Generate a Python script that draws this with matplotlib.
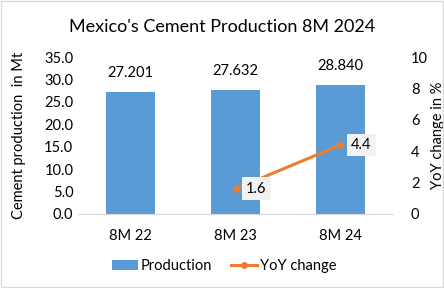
import numpy as np
import matplotlib.pyplot as plt

plt.rcParams['font.family'] = ['Lato', 'DejaVu Sans']

periods = ['8M 22', '8M 23', '8M 24']
production = [27.201, 27.632, 28.840]
yoy_change = [np.nan, 1.6, 4.4]

bar_color = '#5b9bd5'
line_color = '#ed7d31'

fig = plt.figure(figsize=(4.44, 2.88), dpi=100)
ax = fig.add_axes([0.176, 0.257, 0.709, 0.545])
x = np.arange(len(periods))

ax.bar(x, production, width=0.46, color=bar_color, label='Production', zorder=2)
for xi, v in zip(x, production):
    ax.text(xi, v + 2.6, f'{v:.3f}', ha='center', va='bottom', fontsize=10.5)

ax.set_ylim(0, 35)
ax.set_yticks(np.arange(0, 36, 5))
ax.set_yticklabels([f'{t:.1f}' for t in np.arange(0, 36, 5)])
ax.set_xlim(-0.5, 2.5)
ax.set_xticks(x)
ax.set_xticklabels(periods)
ax.set_ylabel('Cement production  in Mt', fontsize=10.5)
ax.yaxis.set_label_coords(-0.165, 0.5)
for s in ['top', 'right', 'left']:
    ax.spines[s].set_visible(False)
ax.spines['bottom'].set_color('#d9d9d9')
ax.tick_params(axis='both', length=0, labelsize=10.5)
ax.tick_params(axis='x', pad=11)

ax2 = ax.twinx()
ax2.plot(x, yoy_change, color=line_color, lw=2.2, marker='o', ms=4, label='YoY change', zorder=3)
for xi, v in zip(x, yoy_change):
    if not np.isnan(v):
        ax2.text(xi + 0.1, v, f'{v:.1f}', ha='left', va='center', fontsize=10.5,
                 bbox=dict(boxstyle='square,pad=0.3', fc='#f2f2f2', ec='none'))
ax2.set_ylim(0, 10)
ax2.set_yticks(np.arange(0, 11, 2))
ax2.set_ylabel('YoY change in %', fontsize=10.5, rotation=90)
ax2.yaxis.set_label_coords(1.12, 0.5)
for s in ['top', 'right', 'left', 'bottom']:
    ax2.spines[s].set_visible(False)
ax2.tick_params(axis='y', length=0, labelsize=10.5, pad=13)

fig.suptitle("Mexico's Cement Production 8M 2024", y=0.935, fontsize=13)

h1, l1 = ax.get_legend_handles_labels()
h2, l2 = ax2.get_legend_handles_labels()
fig.legend(h1 + h2, l1 + l2, loc='center', bbox_to_anchor=(0.505, 0.075), ncol=2,
           frameon=False, fontsize=10.5, handlelength=1.8, handletextpad=0.2, columnspacing=1.3)

fig.patches.append(plt.Rectangle((0.002, 0.003), 0.995, 0.993, transform=fig.transFigure,
                                 fill=False, ec='#d9d9d9', lw=1))

fig.savefig('out.png', dpi=100)
